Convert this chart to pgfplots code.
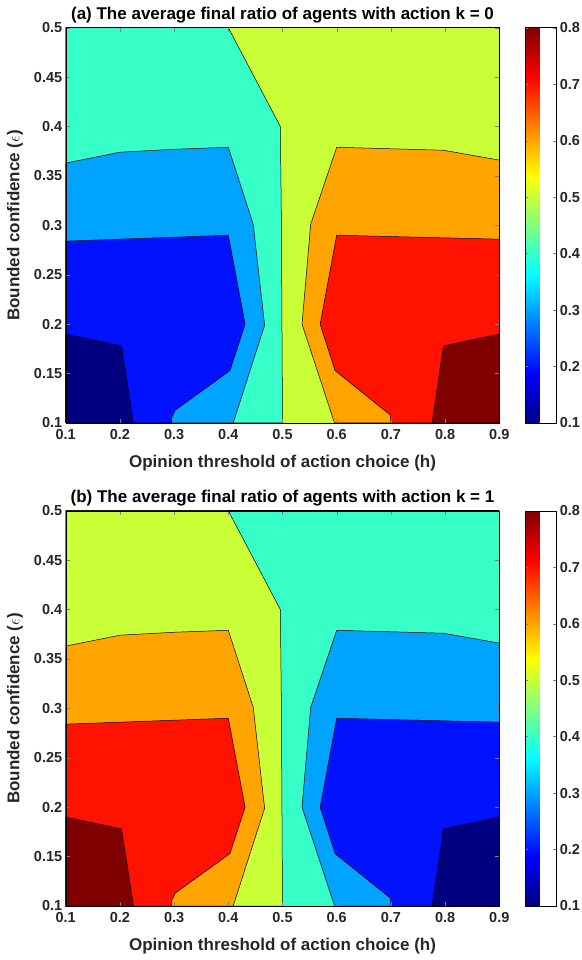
\documentclass[border=0pt]{standalone}
\usepackage{pgfplots}
\usepackage{pgfplotstable}
\pgfplotsset{compat=1.18}
\usepackage{fontspec}
\setmainfont{Liberation Sans}

\definecolor{cA}{rgb}{0,0,0.5}
\definecolor{cB}{rgb}{0,0.071,1}
\definecolor{cC}{rgb}{0,0.643,1}
\definecolor{cD}{rgb}{0.214,1,0.786}
\definecolor{cE}{rgb}{0.786,1,0.214}
\definecolor{cF}{rgb}{1,0.643,0}
\definecolor{cG}{rgb}{1,0.071,0}
\definecolor{cH}{rgb}{0.5,0,0}
\definecolor{tk}{rgb}{0.15,0.15,0.15}

% contour regions (h, epsilon)
\pgfplotstableread{
x y
0.1 0.1
0.1 0.5
0.9 0.5
0.9 0.1
}\BG
\pgfplotstableread{
x y
0.1 0.1
0.1 0.5
0.4 0.5
0.496 0.4
0.498 0.3
0.5 0.1
}\LthreeT
\pgfplotstableread{
x y
0.1 0.1
0.1 0.363
0.2 0.374
0.3 0.377
0.4 0.379
0.446 0.301
0.467 0.199
0.409 0.1
}\LtwoT
\pgfplotstableread{
x y
0.1 0.1
0.1 0.284
0.4 0.290
0.431 0.2
0.403 0.153
0.302 0.113
0.296 0.106
0.295 0.1
}\LoneT
\pgfplotstableread{
x y
0.1 0.1
0.1 0.190
0.203 0.178
0.225 0.1
}\LzeroT
\pgfplotstableread{
x y
0.9 0.1
0.9 0.366
0.797 0.376
0.6 0.379
0.552 0.301
0.536 0.2
0.596 0.1
}\RfiveT
\pgfplotstableread{
x y
0.9 0.1
0.9 0.286
0.6 0.290
0.5695 0.2
0.597 0.153
0.699 0.108
0.700 0.1
}\RsixT
\pgfplotstableread{
x y
0.9 0.1
0.9 0.190
0.797 0.178
0.776 0.1
}\RsevenT

\pgfplotsset{
  contourplot/.style={
    scale only axis, width=433.6pt, height=395.3pt,
    xmin=0.1, xmax=0.9, ymin=0.1, ymax=0.5,
    xtick={0.1,0.2,0.3,0.4,0.5,0.6,0.7,0.8,0.9},
    ytick={0.1,0.15,0.2,0.25,0.3,0.35,0.4,0.45,0.5},
    /pgf/number format/fixed,
    /pgf/number format/precision=2,
    /pgf/number format/assume math mode=true,
    tick label style={font=\fontsize{14.5}{16}\selectfont\bfseries, text=tk},
    xticklabel style={yshift=-2.5pt},
    xlabel={Opinion threshold of action choice (h)},
    ylabel={Bounded confidence ($\epsilon$)},
    every axis x label/.style={at={(axis description cs:0.5,-0.101)}, anchor=center,
      font=\fontsize{17}{19}\selectfont\bfseries, text=tk},
    every axis y label/.style={at={(axis description cs:-0.117,0.5)}, anchor=center, rotate=90,
      font=\fontsize{17}{19}\selectfont\bfseries, text=tk},
    every axis title/.style={at={(axis description cs:0.5,1.032)}, anchor=center,
      font=\fontsize{17}{19}\selectfont\bfseries},
    axis on top,
    major tick length=4pt,
    colorbar, colormap/jet, point meta min=0.1, point meta max=0.8,
    colorbar style={
      width=31pt,
      at={(parent axis.north east)}, anchor=north west, xshift=17.5pt,
      ytick={0.1,0.2,0.3,0.4,0.5,0.6,0.7,0.8},
      major tick length=3pt,
      yticklabel style={font=\fontsize{14.5}{16}\selectfont\bfseries, text=tk,
        /pgf/number format/fixed, /pgf/number format/precision=1,
        /pgf/number format/assume math mode=true},
    },
  },
  region/.style={fill=#1, draw=black, line width=0.5pt},
}

\begin{document}
\begin{tikzpicture}
\useasboundingbox (0,0) rectangle (581pt,-960pt);
\begin{axis}[contourplot, at={(65.7pt,-27.7pt)}, anchor=north west,
  title={(a) The average final ratio of agents with action k = 0}]
  \addplot[region=cE] table {\BG} -- cycle;
  \addplot[region=cD] table {\LthreeT} -- cycle;
  \addplot[region=cC] table {\LtwoT} -- cycle;
  \addplot[region=cB] table {\LoneT} -- cycle;
  \addplot[region=cA] table {\LzeroT} -- cycle;
  \addplot[region=cF] table {\RfiveT} -- cycle;
  \addplot[region=cG] table {\RsixT} -- cycle;
  \addplot[region=cH] table {\RsevenT} -- cycle;
\end{axis}
\begin{axis}[contourplot, at={(65.7pt,-510.7pt)}, anchor=north west,
  title={(b) The average final ratio of agents with action k = 1}]
  \addplot[region=cD] table {\BG} -- cycle;
  \addplot[region=cE] table {\LthreeT} -- cycle;
  \addplot[region=cF] table {\LtwoT} -- cycle;
  \addplot[region=cG] table {\LoneT} -- cycle;
  \addplot[region=cH] table {\LzeroT} -- cycle;
  \addplot[region=cC] table {\RfiveT} -- cycle;
  \addplot[region=cB] table {\RsixT} -- cycle;
  \addplot[region=cA] table {\RsevenT} -- cycle;
\end{axis}
\end{tikzpicture}
\end{document}
